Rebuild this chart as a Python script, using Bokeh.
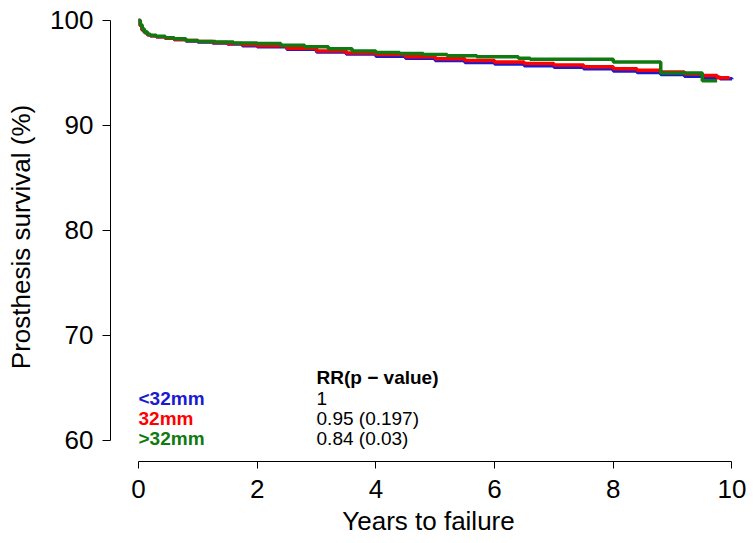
from bokeh.plotting import figure
from bokeh.models import Range1d, FixedTicker, ColumnDataSource
from bokeh.core.properties import value
from bokeh.embed import file_html
from bokeh.resources import INLINE

# ---- data ----
blue_t = [0, 0.03, 0.06, 0.1, 0.15, 0.2, 0.3, 0.45, 0.6, 0.8, 1.0, 1.25, 1.5, 1.75, 2.0, 2.5, 3.0,
          3.5, 4.0, 4.5, 5.0, 5.5, 6.0, 6.5, 7.0, 7.5, 8.0, 8.4, 8.8, 9.2, 9.5, 9.8, 10.0]
blue_s = [100, 99.5, 99.1, 98.85, 98.65, 98.55, 98.45, 98.3, 98.2, 98.05, 97.95, 97.85, 97.75, 97.6,
          97.5, 97.25, 97.0, 96.8, 96.6, 96.4, 96.2, 96.0, 95.85, 95.7, 95.55, 95.4, 95.2, 95.05,
          94.85, 94.7, 94.6, 94.45, 94.4]

red_t = [0, 0.03, 0.06, 0.1, 0.15, 0.2, 0.3, 0.45, 0.6, 0.8, 1.0, 1.25, 1.5, 1.75, 2.0, 2.5, 3.0,
         3.5, 4.0, 4.5, 5.0, 5.5, 6.0, 6.5, 7.0, 7.5, 8.0, 8.4, 8.8, 9.2, 9.5, 9.75, 9.95]
red_s = [100, 99.5, 99.1, 98.85, 98.65, 98.55, 98.45, 98.3, 98.2, 98.1, 98.0, 97.9, 97.8, 97.7,
         97.6, 97.35, 97.1, 96.9, 96.75, 96.55, 96.35, 96.2, 96.05, 95.9, 95.75, 95.6, 95.4, 95.25,
         95.1, 94.9, 94.75, 94.55, 94.45]

green_t = [0, 0.03, 0.06, 0.1, 0.15, 0.2, 0.3, 0.45, 0.6, 0.8, 1.0, 1.3, 1.6, 2.0, 2.4, 2.8, 3.2,
           3.6, 4.0, 4.4, 4.8, 5.2, 5.7, 6.4, 6.6, 8.0, 8.8, 9.5, 9.75]
green_s = [100, 99.6, 99.2, 98.9, 98.7, 98.6, 98.5, 98.35, 98.25, 98.1, 98.0, 97.95, 97.85, 97.8,
           97.65, 97.5, 97.3, 97.1, 96.95, 96.85, 96.75, 96.65, 96.55, 96.4, 96.3, 96.05, 95.0,
           94.25, 94.25]

groups = ["<32mm", "32mm", ">32mm"]
rr_text = ["1", "0.95 (0.197)", "0.84 (0.03)"]
rr_header = "RR(p \u2212 value)"
colors = ["#1a1ad0", "#ff0000", "#107a10"]

x_ticks = [0, 2, 4, 6, 8, 10]
y_ticks = [60, 70, 80, 90, 100]

FONT = "Liberation Sans"

p = figure(width=750, height=540, output_backend="svg", toolbar_location=None,
           x_range=Range1d(-0.472, 10.245), y_range=Range1d(58.0, 100.76),
           min_border_left=110, min_border_right=4, min_border_top=12, min_border_bottom=79)
p.outline_line_color = None
p.grid.visible = False
p.background_fill_color = "white"

for ax in (p.xaxis[0], p.yaxis[0]):
    ax.axis_line_color = "black"
    ax.axis_line_width = 1
    ax.major_tick_line_color = "black"
    ax.major_tick_in = 0
    ax.major_tick_out = 7
    ax.minor_tick_line_color = None
    ax.major_label_text_font = FONT
    ax.major_label_text_font_size = "26px"
    ax.major_label_text_color = "black"
    ax.axis_label_text_font = FONT
    ax.axis_label_text_font_size = "26px"
    ax.axis_label_text_font_style = "normal"
    ax.axis_label_text_color = "black"

p.xaxis.ticker = FixedTicker(ticks=x_ticks)
p.yaxis.ticker = FixedTicker(ticks=y_ticks)
p.xaxis.bounds = (x_ticks[0], x_ticks[-1])
p.yaxis.bounds = (y_ticks[0], y_ticks[-1])
p.xaxis.axis_label = "Years to failure"
p.yaxis.axis_label = "Prosthesis survival (%)"
p.xaxis.major_label_standoff = 11
p.xaxis.axis_label_standoff = 5
p.yaxis.major_label_standoff = 9
p.yaxis.axis_label_standoff = 11
p.yaxis.major_tick_out = 8

for t, s, c in ((blue_t, blue_s, colors[0]), (red_t, red_s, colors[1]), (green_t, green_s, colors[2])):
    p.step(x=t, y=s, mode="after", line_color=c, line_width=3.5)

# RR annotations
label_x = [0.0, 0.0, 0.0]
label_y = [64.0, 62.1, 60.2]
src = ColumnDataSource(dict(x=label_x, y=label_y, text=groups, color=colors))
p.text(x="x", y="y", text="text", text_color="color", source=src,
       text_font=value(FONT), text_font_size="19px", text_font_style="bold",
       text_baseline="middle", text_align="left")
src2 = ColumnDataSource(dict(x=[3.0] * 3, y=label_y, text=rr_text))
p.text(x="x", y="y", text="text", text_color="black", source=src2,
       text_font=value(FONT), text_font_size="19px", text_font_style="normal",
       text_baseline="middle", text_align="left")
p.text(x=[3.0], y=[66.0], text=[rr_header], text_color="black",
       text_font=value(FONT), text_font_size="19px", text_font_style="bold",
       text_baseline="middle", text_align="left")

open("out.html", "w").write(file_html(p, INLINE))
